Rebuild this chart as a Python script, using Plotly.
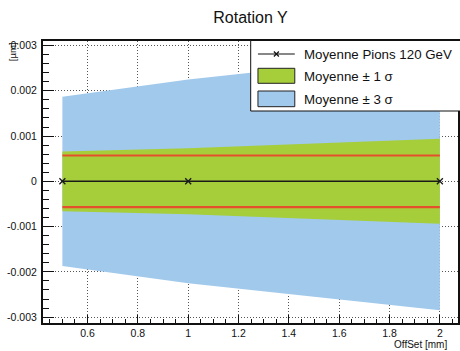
import plotly.graph_objects as go

# ---- data ----
offset_mm = [0.5, 1.0, 2.0]
mean_vals = [0.0, 0.0, 0.0]
sigma1_vals = [0.00066, 0.00073, 0.00094]
sigma3_vals = [0.00187, 0.00225, 0.00285]
red_upper = [0.00057, 0.00057, 0.00057]
red_lower = [-0.00057, -0.00057, -0.00057]

x_tickvals = [0.6, 0.8, 1.0, 1.2, 1.4, 1.6, 1.8, 2.0]
x_ticktext = ["0.6", "0.8", "1", "1.2", "1.4", "1.6", "1.8", "2"]
y_tickvals = [-0.003, -0.002, -0.001, 0.0, 0.001, 0.002, 0.003]
y_ticktext = ["-0.003", "-0.002", "-0.001", "0", "0.001", "0.002", "0.003"]

legend_labels = ["Moyenne Pions 120 GeV", "Moyenne \u00b1 1 \u03c3", "Moyenne \u00b1 3 \u03c3"]
title_text = "Rotation Y"
x_title = "OffSet [mm]"
y_title = "[\u00b5m]"

GREEN = "#a6ce3a"
BLUE = "#a1c9eb"
RED = "#e5502c"
FONT = "Liberation Sans, Arial, sans-serif"

W, H = 460, 351
L, R, T, B = 43, 0, 41, 28
PW, PH = W - L - R, H - T - B


def px(x):
    return (x - L) / PW


def py(y):
    return (H - B - y) / PH


fig = go.Figure()

# +-3 sigma band
up3 = [m + s for m, s in zip(mean_vals, sigma3_vals)]
lo3 = [m - s for m, s in zip(mean_vals, sigma3_vals)]
fig.add_trace(go.Scatter(x=offset_mm + offset_mm[::-1], y=up3 + lo3[::-1],
                         fill="toself", fillcolor=BLUE, line=dict(width=0),
                         mode="lines", showlegend=False, hoverinfo="skip"))
# +-1 sigma band
up1 = [m + s for m, s in zip(mean_vals, sigma1_vals)]
lo1 = [m - s for m, s in zip(mean_vals, sigma1_vals)]
fig.add_trace(go.Scatter(x=offset_mm + offset_mm[::-1], y=up1 + lo1[::-1],
                         fill="toself", fillcolor=GREEN, line=dict(width=0),
                         mode="lines", showlegend=False, hoverinfo="skip"))
# red reference lines
for yv in (red_upper, red_lower):
    fig.add_trace(go.Scatter(x=offset_mm, y=yv, mode="lines",
                             line=dict(color=RED, width=2.2), showlegend=False))
# mean line
fig.add_trace(go.Scatter(x=offset_mm, y=mean_vals, mode="lines+markers",
                         line=dict(color="#1a1a1a", width=1.4),
                         marker=dict(symbol="x-thin", size=6,
                                     line=dict(color="#1a1a1a", width=1.3)),
                         showlegend=False))

axis_common = dict(showline=True, linecolor="#111", mirror=True,
                   showgrid=True, gridcolor="#555", griddash="1px,2px", gridwidth=1,
                   zeroline=False, ticks="inside", tickcolor="#111",
                   tickfont=dict(family=FONT, size=10.5, color="#111"))

fig.update_xaxes(range=[0.423, 2.072], tickvals=x_tickvals, ticktext=x_ticktext,
                 ticklen=8, linewidth=1.5,
                 minor=dict(dtick=0.05, tick0=0.0, ticklen=4, ticks="inside",
                            tickcolor="#111", showgrid=False),
                 **axis_common)
fig.update_yaxes(range=[-0.00313, 0.0031], tickvals=y_tickvals, ticktext=y_ticktext,
                 ticklen=11, linewidth=2, ticklabelstandoff=2,
                 minor=dict(dtick=0.0002, tick0=0.0, ticklen=6, ticks="inside",
                            tickcolor="#111", showgrid=False),
                 **axis_common)

# ---- legend (drawn box) ----
shapes = [
    dict(type="rect", xref="paper", yref="paper", x0=px(251.7), x1=px(475),
         y0=py(111), y1=py(40.5), fillcolor="white", line=dict(color="#111", width=1),
         layer="above"),
    dict(type="line", xref="paper", yref="paper", x0=px(259), x1=px(296),
         y0=py(54), y1=py(54), line=dict(color="#111", width=1), layer="above"),
    dict(type="line", xref="paper", yref="paper", x0=px(275), x1=px(280),
         y0=py(51.5), y1=py(56.5), line=dict(color="#111", width=1.2), layer="above"),
    dict(type="line", xref="paper", yref="paper", x0=px(275), x1=px(280),
         y0=py(56.5), y1=py(51.5), line=dict(color="#111", width=1.2), layer="above"),
    dict(type="rect", xref="paper", yref="paper", x0=px(259), x1=px(296),
         y0=py(83.3), y1=py(68.3), fillcolor=GREEN, line=dict(color="#222", width=1),
         layer="above"),
    dict(type="rect", xref="paper", yref="paper", x0=px(259), x1=px(296),
         y0=py(106.7), y1=py(91), fillcolor=BLUE, line=dict(color="#222", width=1),
         layer="above"),
]
annotations = []
for lbl, yy in zip(legend_labels, [54, 76.5, 99]):
    annotations.append(dict(text=lbl, xref="paper", yref="paper", x=px(303), y=py(yy),
                            xanchor="left", yanchor="middle", showarrow=False,
                            font=dict(family=FONT, size=13.3, color="#111")))
annotations.append(dict(text=x_title, xref="paper", yref="paper", x=px(451), y=py(344.5),
                        xanchor="right", yanchor="middle", showarrow=False,
                        font=dict(family=FONT, size=10, color="#111")))
annotations.append(dict(text=y_title, xref="paper", yref="paper", x=px(12), y=py(52),
                        xanchor="center", yanchor="middle", showarrow=False, textangle=-90,
                        font=dict(family=FONT, size=9.5, color="#111")))

fig.update_layout(
    width=W, height=H,
    margin=dict(l=L, r=R, t=T, b=B, pad=0),
    paper_bgcolor="white", plot_bgcolor="white",
    showlegend=False,
    title=dict(text=title_text, x=0.5, xref="paper", xanchor="center",
               y=1 - 17.5 / H, yref="container", yanchor="middle",
               font=dict(family=FONT, size=16, color="#111")),
    shapes=shapes, annotations=annotations,
)

fig.write_html("out.html",
               config={"displayModeBar": False},
               post_script="document.body.style.margin='0px';"
                           "document.body.style.overflow='hidden';")
